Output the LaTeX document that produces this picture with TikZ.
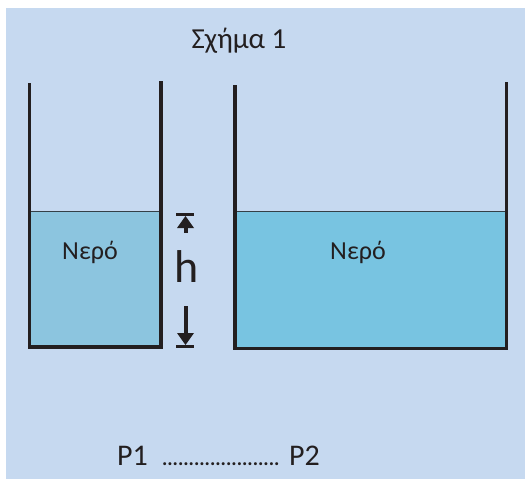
\documentclass[tikz,border=0pt]{standalone}
\usepackage{fontspec}
\setmainfont{Carlito}
\definecolor{bgc}{HTML}{C6D9F0}
\definecolor{waterL}{HTML}{8CC5DF}
\definecolor{waterR}{HTML}{78C4E1}
\definecolor{wallc}{HTML}{231F20}
\begin{document}
\begin{tikzpicture}[x=1pt,y=-1pt,
  wall/.style={line width=3.5pt, draw=wallc, line cap=butt, line join=miter},
  surf/.style={line width=1pt, draw=wallc!80!waterR},
  lbl/.style={inner sep=0pt, outer sep=0pt, text=wallc, anchor=base}]
\useasboundingbox (0,0) rectangle (525,479);
\fill[bgc] (6,8) rectangle (525,479);
% left container
\fill[waterL] (31,211) rectangle (159.5,345);
\draw[surf] (31,211.5) -- (159.5,211.5);
\draw[wall] (29.5,83) -- (29.5,347) -- (161.2,347) -- (161.2,81);
% right container
\fill[waterR] (236.5,211) rectangle (505,346.5);
\draw[surf] (236.5,211.5) -- (505,211.5);
\draw[wall] (235,85) -- (235,348.5) -- (506.5,348.5) -- (506.5,82);
% height marker
\fill[wallc] (176,213) rectangle (194,216);
\fill[wallc] (185.5,216) -- (177,228) -- (194,228) -- cycle;
\fill[wallc] (184,228) rectangle (188,233);
\fill[wallc] (184,306) rectangle (188,333);
\fill[wallc] (177,333) -- (194,333) -- (185.5,345) -- cycle;
\fill[wallc] (176,345) rectangle (194,348);
% texts
\node[lbl, font=\fontsize{29}{34}\selectfont] (title) at (239,48) {Σχήμα 1};
\node[lbl, font=\fontsize{26}{30}\selectfont] (w1) at (90,259) {Νερό};
\node[lbl, font=\fontsize{26}{30}\selectfont] (w2) at (358,259) {Νερό};
\node[lbl, font=\fontsize{46}{50}\selectfont] (h) at (187,282) {h};
\node[lbl, anchor=base west, font=\fontsize{30}{34}\selectfont] (p1) at (117,465) {P1};
\node[lbl, anchor=base west, font=\fontsize{30}{34}\selectfont] (p2) at (289,465) {P2};
\node[lbl, anchor=base west, font=\bfseries\fontsize{20}{24}\selectfont] (dots) at (162,465) {......................};
\end{tikzpicture}
\end{document}
